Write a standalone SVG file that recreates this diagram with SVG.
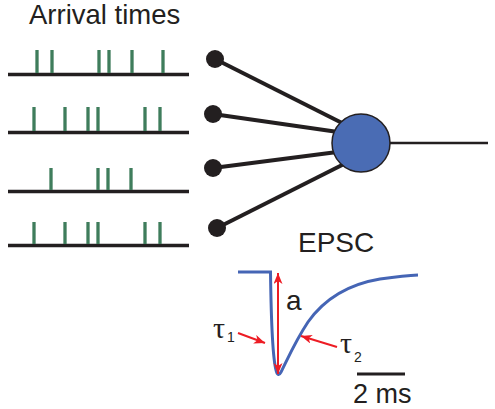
<svg xmlns="http://www.w3.org/2000/svg" width="495" height="409" viewBox="0 0 495 409">
<style>
.lbl{font-family:"Liberation Sans",Arial,sans-serif;font-size:28px;fill:#231f20}
.tau{font-family:"Liberation Serif","Times New Roman",serif;font-size:30px;fill:#231f20}
.sub{font-family:"Liberation Sans",Arial,sans-serif;font-size:14px;fill:#231f20}
.axis{stroke:#231f20;stroke-width:3.5;fill:none}
.spk{stroke:#3f7d5c;stroke-width:3.3;fill:none}
.conn{stroke:#231f20;stroke-width:4;fill:none}
.dot{fill:#231f20}
.red{stroke:#ed1c24;stroke-width:2;fill:none}
</style>
<defs>
<marker id="ah" markerUnits="userSpaceOnUse" markerWidth="12" markerHeight="10" refX="11" refY="4.5" orient="auto-start-reverse">
<path d="M0,0 L11,4.5 L0,9 L3,4.5 Z" fill="#ed1c24"/>
</marker>
</defs>
<rect width="495" height="409" fill="#ffffff"/>
<text id="title" class="lbl" x="29" y="24" style="font-size:27.5px">Arrival times</text>
<g id="train1">
<line class="axis" x1="8" y1="74.5" x2="189" y2="74.5"/>
<path class="spk" d="M37,50V73M52,50V73M99,50V73M109,50V73M132,50V73M163,50V73"/>
</g>
<g id="train2">
<line class="axis" x1="8" y1="132.5" x2="189" y2="132.5"/>
<path class="spk" d="M34,107V131M65,107V131M88,107V131M98,107V131M145,107V131M160,107V131"/>
</g>
<g id="train3">
<line class="axis" x1="8" y1="191.5" x2="189" y2="191.5"/>
<path class="spk" d="M51,168V190M98,168V190M108,168V190M131,168V190"/>
</g>
<g id="train4">
<line class="axis" x1="8" y1="245.5" x2="189" y2="245.5"/>
<path class="spk" d="M34,222V244M65,222V244M88,222V244M98,222V244M145,222V244M160,222V244"/>
</g>
<g id="connectors">
<line class="conn" x1="215" y1="59" x2="350" y2="127"/>
<line class="conn" x1="213" y1="114" x2="345" y2="133"/>
<line class="conn" x1="213" y1="168" x2="345" y2="151"/>
<line class="conn" x1="217" y1="228" x2="350" y2="161"/>
<line stroke="#231f20" stroke-width="2.5" x1="385" y1="143" x2="488" y2="143"/>
</g>
<g id="input1"><circle class="dot" cx="215" cy="59" r="9"/></g>
<g id="input2"><circle class="dot" cx="213" cy="114" r="9"/></g>
<g id="input3"><circle class="dot" cx="213" cy="168" r="9"/></g>
<g id="input4"><circle class="dot" cx="217" cy="228" r="9"/></g>
<g id="neuron"><circle cx="361" cy="143" r="29" fill="#4a6cb4" stroke="#231f20" stroke-width="1.5"/></g>
<g id="epsc">
<text class="lbl" x="298" y="252">EPSC</text>
<path d="M238,272 H270.5 C271,310 272,355 276,370 C277,375 279,376 281,372 C288,358 296,340 308,322 C325,298 350,284 380,279 C395,277 408,275.5 418,275" fill="none" stroke="#4565b5" stroke-width="3"/>
<line class="red" x1="278" y1="273" x2="278" y2="374" marker-start="url(#ah)" marker-end="url(#ah)"/>
<text class="lbl" x="286" y="310">a</text>
<line class="red" x1="238" y1="333" x2="265" y2="343" marker-end="url(#ah)"/>
<line class="red" x1="337" y1="347" x2="301" y2="336" marker-end="url(#ah)"/>
<text class="tau" x="213" y="338">τ</text>
<text class="sub" x="227" y="342">1</text>
<text class="tau" x="340" y="353">τ</text>
<text class="sub" x="354" y="362">2</text>
<line stroke="#231f20" stroke-width="3" x1="357" y1="374" x2="405" y2="374"/>
<text class="lbl" x="353" y="403" style="font-size:27px">2 ms</text>
</g>
</svg>
